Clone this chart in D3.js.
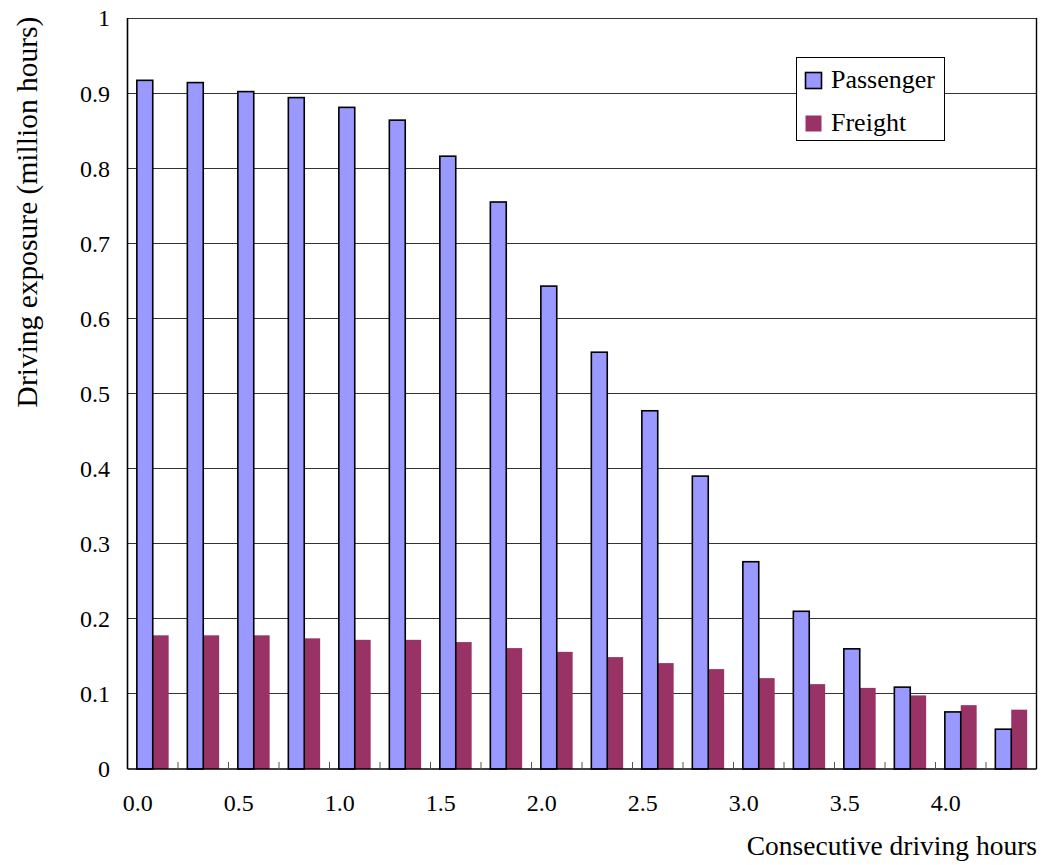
<!DOCTYPE html>
<html>
<head>
<meta charset="utf-8">
<script src="https://cdn.jsdelivr.net/npm/d3@7"></script>
<style>
  html, body { margin: 0; padding: 0; background: #fff; }
  svg { display: block; font-family: "Liberation Serif", "Times New Roman", serif; }
</style>
</head>
<body>
<svg id="chart" width="1042" height="865"></svg>
<script>
// Consecutive driving hours, in quarter-hour steps
const categories = ["0.00","0.25","0.50","0.75","1.00","1.25","1.50","1.75","2.00",
                    "2.25","2.50","2.75","3.00","3.25","3.50","3.75","4.00","4.25"];
// Driving exposure (million hours)
const passenger = [0.917,0.914,0.902,0.894,0.881,0.864,0.816,0.755,0.643,
                   0.555,0.477,0.390,0.276,0.210,0.160,0.109,0.076,0.053];
const freight   = [0.178,0.178,0.178,0.174,0.172,0.172,0.169,0.161,0.156,
                   0.149,0.141,0.133,0.121,0.113,0.108,0.098,0.085,0.079];
const seriesNames = ["Passenger", "Freight"];
const xTickLabels = ["0.0","0.5","1.0","1.5","2.0","2.5","3.0","3.5","4.0"];
const yTicks = [0,0.1,0.2,0.3,0.4,0.5,0.6,0.7,0.8,0.9,1];

const colors = { Passenger: "#9999ff", Freight: "#993366" };

const svg = d3.select("#chart");
const plot = { left: 127.5, right: 1036.5, top: 18, bottom: 769 };

const x = d3.scaleBand().domain(categories).range([plot.left, plot.right]).padding(0);
const bw = x.bandwidth();
const xs = d3.scaleBand().domain(seriesNames).range([bw * 0.185, bw * 0.815]).padding(0);
const y = d3.scaleLinear().domain([0, 1]).range([plot.bottom, plot.top]);

// horizontal gridlines
svg.append("g")
  .selectAll("line")
  .data(yTicks.filter(d => d > 0))
  .join("line")
  .attr("x1", plot.left).attr("x2", plot.right)
  .attr("y1", d => y(d)).attr("y2", d => y(d))
  .attr("stroke", "#333").attr("stroke-width", 1)
  .attr("shape-rendering", "crispEdges");

// bars
const rows = categories.map((c, i) => ({ c, Passenger: passenger[i], Freight: freight[i] }));
const groups = svg.append("g")
  .selectAll("g")
  .data(rows)
  .join("g")
  .attr("transform", d => `translate(${x(d.c)},0)`);

groups.append("rect")
  .attr("x", xs("Freight"))
  .attr("width", xs.bandwidth())
  .attr("y", d => y(d.Freight))
  .attr("height", d => y(0) - y(d.Freight))
  .attr("fill", colors.Freight);

groups.append("rect")
  .attr("x", xs("Passenger"))
  .attr("width", xs.bandwidth())
  .attr("y", d => y(d.Passenger))
  .attr("height", d => y(0) - y(d.Passenger))
  .attr("fill", colors.Passenger)
  .attr("stroke", "#000").attr("stroke-width", 1.6);

// frame: left axis, bottom axis, right edge
svg.append("line").attr("x1", plot.left).attr("x2", plot.left).attr("y1", plot.top).attr("y2", plot.bottom)
  .attr("stroke", "#000").attr("stroke-width", 1.6);
svg.append("line").attr("x1", plot.right).attr("x2", plot.right).attr("y1", plot.top).attr("y2", plot.bottom)
  .attr("stroke", "#000").attr("stroke-width", 1.4);
svg.append("line").attr("x1", plot.left).attr("x2", plot.right).attr("y1", plot.bottom).attr("y2", plot.bottom)
  .attr("stroke", "#000").attr("stroke-width", 1.6);

// inward tick marks between categories
svg.append("g")
  .selectAll("line")
  .data(categories.slice(1))
  .join("line")
  .attr("x1", d => x(d)).attr("x2", d => x(d))
  .attr("y1", plot.bottom).attr("y2", plot.bottom - 7)
  .attr("stroke", "#555").attr("stroke-width", 1);

// y tick labels
svg.append("g")
  .selectAll("text")
  .data(yTicks)
  .join("text")
  .attr("x", 110)
  .attr("y", d => y(d))
  .attr("dy", "0.35em")
  .attr("text-anchor", "end")
  .attr("font-size", 24)
  .text(d => (d === 0 || d === 1) ? d3.format("d")(d) : d3.format(".1f")(d));

// x tick labels on every other category
svg.append("g")
  .selectAll("text")
  .data(xTickLabels)
  .join("text")
  .attr("x", (d, i) => x(categories[i * 2]) + bw / 2)
  .attr("y", 811)
  .attr("text-anchor", "end")
  .attr("font-size", 24)
  .text(d => d);

// axis titles
svg.append("text")
  .attr("x", 1037).attr("y", 855)
  .attr("text-anchor", "end")
  .attr("font-size", 27.5)
  .text("Consecutive driving hours");

svg.append("text")
  .attr("transform", "translate(37,212) rotate(-90)")
  .attr("text-anchor", "middle")
  .attr("font-size", 29.5)
  .text("Driving exposure (million hours)");

// legend
const lg = svg.append("g");
lg.append("rect").attr("x", 796.5).attr("y", 57.5).attr("width", 148).attr("height", 83)
  .attr("fill", "#fff").attr("stroke", "#000").attr("stroke-width", 1);
seriesNames.forEach((name, i) => {
  lg.append("rect")
    .attr("x", 805.5).attr("y", 72.5 + i * 43).attr("width", 16).attr("height", 16)
    .attr("fill", colors[name])
    .attr("stroke", name === "Passenger" ? "#000" : "none")
    .attr("stroke-width", 1.6);
  lg.append("text")
    .attr("x", 831).attr("y", 88 + i * 43)
    .attr("font-size", 26)
    .text(name);
});
</script>
</body>
</html>
